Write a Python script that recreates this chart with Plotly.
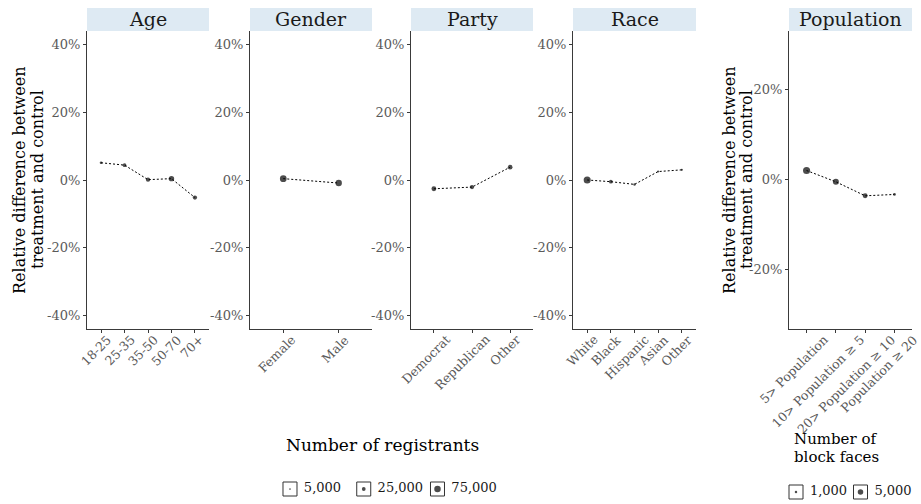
import math
import plotly.graph_objects as go

# ---------------- data ----------------
age_cats = ["18-25", "25-35", "35-50", "50-70", "70+"]
age_vals = [5.1, 4.4, 0.1, 0.4, -5.2]
age_n = [13000, 25000, 33000, 52000, 33000]

gender_cats = ["Female", "Male"]
gender_vals = [0.4, -0.9]
gender_n = [80000, 72000]

party_cats = ["Democrat", "Republican", "Other"]
party_vals = [-2.6, -2.1, 3.8]
party_n = [42000, 33000, 40000]

race_cats = ["White", "Black", "Hispanic", "Asian", "Other"]
race_vals = [0.0, -0.5, -1.3, 2.5, 3.0]
race_n = [88000, 25000, 11000, 8000, 8000]

pop_cats = ["5> Population", "10> Population \u2265 5", "20> Population \u2265 10", "Population \u2265 20"]
pop_vals = [2.0, -0.5, -3.6, -3.3]
pop_n = [8400, 6000, 4000, 1300]

left_ticks = [-40, -20, 0, 20, 40]
left_ticktext = ["-40%", "-20%", "0%", "20%", "40%"]
pop_ticks = [-20, 0, 20]
pop_ticktext = ["-20%", "0%", "20%"]

reg_legend_vals = [5000, 25000, 75000]
reg_legend_text = ["5,000", "25,000", "75,000"]
pop_legend_vals = [1000, 5000]
pop_legend_text = ["1,000", "5,000"]

panel_titles = ["Age", "Gender", "Party", "Race", "Population"]
ytitle_lines = ["Relative difference between", "treatment and control"]
reg_legend_title = "Number of registrants"
pop_legend_title_lines = ["Number of", "block faces"]

# ---------------- layout constants ----------------
W, H = 921, 504
FONT = "DejaVu Serif"
TICK_COLOR = "#5a5a5a"
LINE_COLOR = "#3a3a3a"
STRIP_COLOR = "#deeaf3"

panel_px = [(87, 209), (250, 372), (411, 533), (573, 696), (789, 912)]
plot_top, plot_bot = 31, 329
strip_top = 8
xlabel_top = 331


def px_x(v):
    return v / W


def px_y(v):
    return (H - v) / H


def reg_size(n):
    return 6.5 * math.sqrt(n / 75000.0)


def pop_size(n):
    return 5.5 * math.sqrt(n / 5000.0)


panels = [
    (age_cats, age_vals, age_n, reg_size),
    (gender_cats, gender_vals, gender_n, reg_size),
    (party_cats, party_vals, party_n, reg_size),
    (race_cats, race_vals, race_n, reg_size),
    (pop_cats, pop_vals, pop_n, pop_size),
]

fig = go.Figure()
shapes = []
annotations = []

for i, (cats, vals, ns, sf) in enumerate(panels):
    k = i + 1
    xa = "x" if k == 1 else f"x{k}"
    ya = "y" if k == 1 else f"y{k}"
    fig.add_trace(go.Scatter(
        x=cats, y=vals, xaxis=xa, yaxis=ya, mode="lines+markers",
        line=dict(color="black", width=1, dash="2px,2px"),
        marker=dict(color="black", size=[sf(n) for n in ns], line=dict(width=0)),
        showlegend=False, hoverinfo="skip",
    ))
    x0, x1 = panel_px[i]
    xkey = "xaxis" if k == 1 else f"xaxis{k}"
    ykey = "yaxis" if k == 1 else f"yaxis{k}"
    is_pop = (i == 4)
    fig.update_layout(**{
        xkey: dict(
            domain=[px_x(x0), px_x(x1)], anchor=ya, type="category",
            categoryorder="array", categoryarray=cats,
            range=[-0.6, len(cats) - 0.4], automargin=False,
            showline=True, linecolor=LINE_COLOR, linewidth=1.2,
            ticks="outside", ticklen=3, tickcolor=LINE_COLOR, tickwidth=1,
            showgrid=False, zeroline=False, showticklabels=False,
            fixedrange=True,
        ),
        ykey: dict(
            domain=[px_y(plot_bot), px_y(plot_top)], anchor=xa,
            range=[-33.1, 32.9] if is_pop else [-44.1, 44.1],
            tickvals=pop_ticks if is_pop else left_ticks,
            ticktext=pop_ticktext if is_pop else left_ticktext,
            automargin=False,
            showline=True, linecolor=LINE_COLOR, linewidth=1.2,
            ticks="outside", ticklen=3, tickcolor=LINE_COLOR, tickwidth=1,
            showgrid=False, zeroline=False,
            tickfont=dict(family=FONT, size=13, color=TICK_COLOR),
            fixedrange=True,
        ),
    })
    # rotated category labels (ggplot-style justification)
    for c in cats:
        annotations.append(dict(
            text=c, xref=xa, yref="paper", x=c, y=px_y(xlabel_top),
            xanchor="center", yanchor="top", textangle=-45,
            xshift=-1.0 * len(c), showarrow=False, borderpad=0,
            font=dict(family=FONT, size=12.5, color=TICK_COLOR)))
    # strip
    shapes.append(dict(type="rect", xref="paper", yref="paper",
                       x0=px_x(x0), x1=px_x(x1), y0=px_y(plot_top), y1=px_y(strip_top),
                       fillcolor=STRIP_COLOR, line=dict(width=0), layer="below"))
    annotations.append(dict(text=panel_titles[i], xref="paper", yref="paper",
                            x=px_x((x0 + x1) / 2), y=px_y((strip_top + plot_top) / 2),
                            xanchor="center", yanchor="middle", showarrow=False,
                            font=dict(family=FONT, size=19, color="#1a1a1a")))

# y-axis titles (two lines each)
for line_xs in ((20, 38), (730, 747)):
    for xc, txt in zip(line_xs, ytitle_lines):
        annotations.append(dict(text=txt, xref="paper", yref="paper",
                                x=px_x(xc), y=px_y((plot_top + plot_bot) / 2),
                                xanchor="center", yanchor="middle", textangle=-90,
                                showarrow=False,
                                font=dict(family=FONT, size=16, color="black")))

# legend titles
annotations.append(dict(text=reg_legend_title, xref="paper", yref="paper",
                        x=px_x(382), y=px_y(445), xanchor="center", yanchor="middle",
                        showarrow=False, font=dict(family=FONT, size=17, color="black")))
for yc, txt in zip((439, 457), pop_legend_title_lines):
    annotations.append(dict(text=txt, xref="paper", yref="paper",
                            x=px_x(792), y=px_y(yc), xanchor="left", yanchor="middle",
                            align="left", showarrow=False,
                            font=dict(family=FONT, size=15, color="black")))


# custom legends (keys with boxes) on hidden axes
def add_legend(k, labels, vals, sf, spacing, first_center, y_center):
    xa, ya = f"x{k}", f"y{k}"
    n = len(labels)
    d0 = first_center - spacing * 0.5
    d1 = d0 + spacing * n
    fig.add_trace(go.Scatter(
        x=labels, y=[0] * n, xaxis=xa, yaxis=ya, mode="markers+text",
        text=["\u00a0" + t for t in labels], textposition="middle right",
        textfont=dict(family=FONT, size=13, color="#1a1a1a"),
        marker=dict(symbol="square-open", size=14, color="#333333", line=dict(width=1)),
        showlegend=False, hoverinfo="skip", cliponaxis=False,
    ))
    fig.add_trace(go.Scatter(
        x=labels, y=[0] * n, xaxis=xa, yaxis=ya, mode="markers",
        marker=dict(color="black", size=[sf(v) for v in vals], line=dict(width=0)),
        showlegend=False, hoverinfo="skip", cliponaxis=False,
    ))
    fig.update_layout(**{
        f"xaxis{k}": dict(domain=[px_x(d0), px_x(d1)], anchor=ya, type="category",
                          range=[-0.5, n - 0.5], visible=False, fixedrange=True,
                          automargin=False),
        f"yaxis{k}": dict(domain=[px_y(y_center + 10), px_y(y_center - 10)], anchor=xa,
                          range=[-1, 1], visible=False, fixedrange=True,
                          automargin=False),
    })


add_legend(6, reg_legend_text, reg_legend_vals, reg_size, 73.75, 290, 489)
add_legend(7, pop_legend_text, pop_legend_vals, pop_size, 64.5, 796, 492)

fig.update_layout(
    width=W, height=H, margin=dict(l=0, r=0, t=0, b=0, autoexpand=False),
    paper_bgcolor="white", plot_bgcolor="white",
    shapes=shapes, annotations=annotations, showlegend=False,
    font=dict(family=FONT),
)

fig.write_html(
    "out.html",
    config={"displayModeBar": False},
    post_script="document.body.style.margin='0';document.body.style.overflow='hidden';",
)
